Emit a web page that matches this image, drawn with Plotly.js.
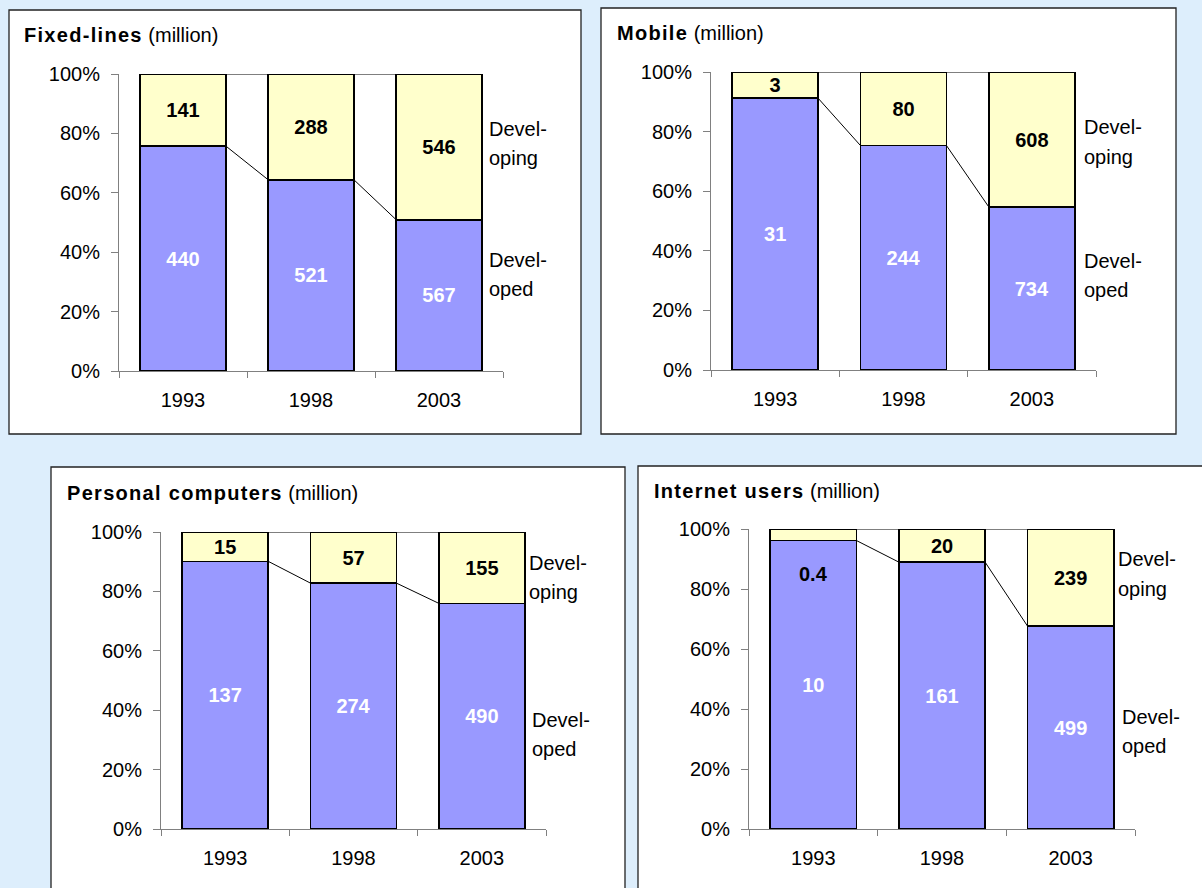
<!DOCTYPE html>
<html>
<head>
<meta charset="utf-8">
<script src="https://cdn.plot.ly/plotly-3.0.1.min.js"></script>
<style>
  html, body { margin: 0; padding: 0; background: #ddeefc; }
  #chart { width: 1202px; height: 888px; }
  .annotation-text tspan[style*="bold"] { letter-spacing: 1.3px; }
</style>
</head>
<body>
<div id="chart"></div>
<script>
// ---------- DATA ----------
const years = ['1993', '1998', '2003'];

const panelTitles = ['Fixed-lines', 'Mobile', 'Personal computers', 'Internet users'];
const unitLabel = '(million)';

const fixedDeveloped    = [440, 521, 567];
const fixedDeveloping   = [141, 288, 546];
const mobileDeveloped   = [31, 244, 734];
const mobileDeveloping  = [3, 80, 608];
const pcDeveloped       = [137, 274, 490];
const pcDeveloping      = [15, 57, 155];
const internetDeveloped = [10, 161, 499];
const internetDeveloping= [0.4, 20, 239];

const yTicks = [0, 20, 40, 60, 80, 100];
const yTickText = ['0%', '20%', '40%', '60%', '80%', '100%'];

// ---------- LAYOUT HELPERS ----------
const W = 1202, H = 888;
const FONT = 'Liberation Sans, Arial, Helvetica, sans-serif';
const COL_DEV = '#9999ff';
const COL_DING = '#ffffcc';
const BAR_W = 0.67;
const px = x => x / W;
const py = y => 1 - y / H;

// panel geometry in pixels (layout only)
const geo = [
  {box: [9, 10, 581, 434],   plot: [119, 74, 503, 371],  title: [25, 35],  ding: [490, 129, 158.5], dev: [490, 260, 289]},
  {box: [601, 8, 1176, 434], plot: [711, 72, 1096, 370], title: [618, 33], ding: [1085, 127, 156.5], dev: [1085, 261, 290]},
  {box: [51, 467, 625, 900], plot: [161, 532, 546, 829], title: [68, 493], ding: [530, 562.5, 592],  dev: [533, 720, 749]},
  {box: [638, 466, 1215, 900], plot: [749, 529, 1135, 829], title: [655, 491], ding: [1119, 559, 588.5], dev: [1123, 717, 746]}
];

const series = [
  [fixedDeveloped, fixedDeveloping],
  [mobileDeveloped, mobileDeveloping],
  [pcDeveloped, pcDeveloping],
  [internetDeveloped, internetDeveloping]
];

const traces = [];
const layout = {
  width: W, height: H,
  margin: {l: 0, r: 0, t: 0, b: 0},
  paper_bgcolor: '#ddeefc',
  plot_bgcolor: 'rgba(0,0,0,0)',
  barmode: 'stack',
  bargap: 1 - BAR_W,
  showlegend: false,
  font: {family: FONT, size: 20, color: '#000'},
  shapes: [],
  annotations: []
};

const xIdx = years.map((_, i) => i);

series.forEach((pair, k) => {
  const [dev, ding] = pair;
  const g = geo[k];
  const n = k + 1;
  const xa = n === 1 ? 'x' : 'x' + n;
  const ya = n === 1 ? 'y' : 'y' + n;
  const devPct = dev.map((d, i) => 100 * d / (d + ding[i]));
  const dingPct = devPct.map(p => 100 - p);

  // developing label is too thin to hold text when share < 5%
  const dingText = ding.map((v, i) => dingPct[i] < 5 ? '' : String(v));

  traces.push({
    type: 'bar', x: xIdx, y: devPct, xaxis: xa, yaxis: ya,
    width: BAR_W,
    marker: {color: COL_DEV, line: {color: '#000', width: 1.6}},
    text: dev.map(String), textposition: 'inside', insidetextanchor: 'middle',
    textangle: 0, constraintext: 'none',
    textfont: {family: FONT, size: 20, color: '#ffffff', weight: 'bold'},
    hoverinfo: 'skip'
  });
  traces.push({
    type: 'bar', x: xIdx, y: dingPct, xaxis: xa, yaxis: ya,
    width: BAR_W,
    marker: {color: COL_DING, line: {color: '#000', width: 1.6}},
    text: dingText, textposition: 'inside', insidetextanchor: 'middle',
    textangle: 0, constraintext: 'none',
    textfont: {family: FONT, size: 20, color: '#000000', weight: 'bold'},
    hoverinfo: 'skip'
  });

  // series lines (connectors)
  const cx = [], cy = [];
  for (let i = 0; i < xIdx.length - 1; i++) {
    cx.push(xIdx[i] + BAR_W / 2, xIdx[i + 1] - BAR_W / 2, null);
    cy.push(devPct[i], devPct[i + 1], null);
    cx.push(xIdx[i] + BAR_W / 2, xIdx[i + 1] - BAR_W / 2, null);
    cy.push(100, 100, null);
  }
  traces.push({
    type: 'scatter', mode: 'lines', x: cx, y: cy, xaxis: xa, yaxis: ya,
    line: {color: '#000', width: 1}, hoverinfo: 'skip', cliponaxis: false
  });

  // labels for thin developing segments, placed inside the developed bar near its top
  ding.forEach((v, i) => {
    if (dingPct[i] < 5) {
      layout.annotations.push({
        xref: xa, yref: ya, x: xIdx[i], y: devPct[i] - 11,
        text: String(v), showarrow: false,
        font: {family: FONT, size: 20, color: '#000', weight: 'bold'}
      });
    }
  });

  const xKey = n === 1 ? 'xaxis' : 'xaxis' + n;
  const yKey = n === 1 ? 'yaxis' : 'yaxis' + n;
  layout[xKey] = {
    domain: [px(g.plot[0]), px(g.plot[2])],
    anchor: ya,
    range: [-0.5, xIdx.length - 0.5],
    tickmode: 'array', tickvals: xIdx, ticktext: years,
    ticks: '', ticklen: 6,
    minor: {tickmode: 'array', tickvals: [-0.5, 0.5, 1.5, 2.5], ticks: 'outside', ticklen: 6, tickwidth: 1, tickcolor: '#808080', showgrid: false},
    showline: true, linecolor: '#808080', linewidth: 1,
    showgrid: false, zeroline: false,
    tickfont: {family: FONT, size: 20, color: '#000'},
    ticklabelstandoff: 11,
    fixedrange: true
  };
  layout[yKey] = {
    domain: [py(g.plot[3]), py(g.plot[1])],
    anchor: xa,
    range: [0, 100],
    tickmode: 'array', tickvals: yTicks, ticktext: yTickText,
    ticks: 'outside', ticklen: 7, tickwidth: 1, tickcolor: '#808080',
    showline: true, linecolor: '#808080', linewidth: 1,
    showgrid: false, zeroline: false,
    tickfont: {family: FONT, size: 20, color: '#000'},
    ticklabelstandoff: 7,
    fixedrange: true
  };

  // panel box
  layout.shapes.push({
    type: 'rect', xref: 'paper', yref: 'paper', layer: 'below',
    x0: px(g.box[0]), x1: px(g.box[2]), y0: py(g.box[3]), y1: py(g.box[1]),
    fillcolor: '#ffffff', line: {color: '#222', width: 1.3}
  });

  // title
  layout.annotations.push({
    xref: 'paper', yref: 'paper', x: px(g.title[0] - 3), y: py(g.title[1]),
    xanchor: 'left', yanchor: 'middle', showarrow: false,
    text: '<b>' + panelTitles[k] + '</b> ' + unitLabel,
    font: {family: FONT, size: 20, color: '#000'}
  });

  // series name labels
  const addLab = (txt, x, y) => layout.annotations.push({
    xref: 'paper', yref: 'paper', x: px(x - 3), y: py(y),
    xanchor: 'left', yanchor: 'middle', showarrow: false, text: txt,
    font: {family: FONT, size: 20, color: '#000'}
  });
  addLab('Devel-', g.ding[0], g.ding[1]);
  addLab('oping', g.ding[0], g.ding[2]);
  addLab('Devel-', g.dev[0], g.dev[1]);
  addLab('oped', g.dev[0], g.dev[2]);
});

Plotly.newPlot('chart', traces, layout, {staticPlot: true, displayModeBar: false});
</script>
</body>
</html>
